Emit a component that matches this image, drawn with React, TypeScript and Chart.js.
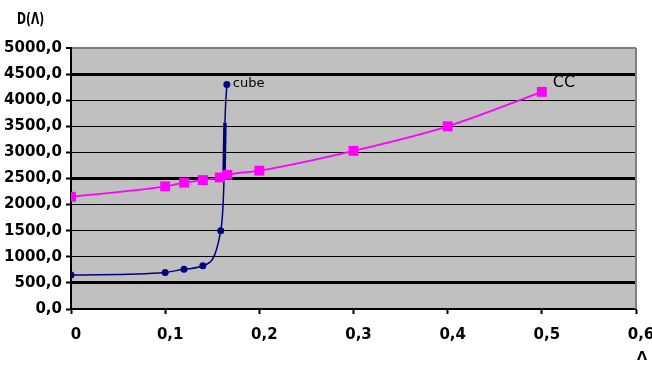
import React, { useEffect, useRef } from "react";
import { Chart, registerables } from "chart.js";

Chart.register(...registerables);

const cubeX = [0, 0.1, 0.12, 0.14, 0.159, 0.1625, 0.1635, 0.1655];
const cubeY = [650, 700, 760, 830, 1500, 2500, 3570, 4300];
const cubeMarkers = [3.5, 3.5, 3.5, 3.5, 3.5, 0, 0, 3.5];

const ccX = [0, 0.1, 0.12, 0.14, 0.158, 0.166, 0.2, 0.3, 0.4, 0.5];
const ccY = [2150, 2350, 2420, 2470, 2520, 2570, 2650, 3030, 3500, 4160];

const xTickLabels = ["0", "0,1", "0,2", "0,3", "0,4", "0,5", "0,6"];
const yTickLabels = ["0,0", "500,0", "1000,0", "1500,0", "2000,0", "2500,0", "3000,0", "3500,0", "4000,0", "4500,0", "5000,0"];
const thickGrid = [500, 2500, 4500];

const yTitle = "D(Λ)";
const xTitle = "Λ";
const cubeName = "cube";
const ccName = "CC";

export default function App() {
  const ref = useRef<HTMLCanvasElement>(null);

  useEffect(() => {
    if (!ref.current) return;
    const plugin = {
      id: "decor",
      beforeDraw(chart: any) {
        const { ctx, chartArea: a } = chart;
        ctx.save();
        ctx.fillStyle = "#C0C0C0";
        ctx.fillRect(a.left, a.top, a.right - a.left, a.bottom - a.top);
        ctx.restore();
      },
      afterDraw(chart: any) {
        const { ctx, chartArea: a } = chart;
        const xs = chart.scales.x;
        const ys = chart.scales.y;
        ctx.save();
        ctx.strokeStyle = "#808080";
        ctx.lineWidth = 2;
        ctx.beginPath();
        ctx.moveTo(a.right, a.top);
        ctx.lineTo(a.right, a.bottom);
        ctx.stroke();

        ctx.fillStyle = "#000";
        ctx.font = "bold 15px 'DejaVu Sans'";
        ctx.textBaseline = "middle";
        ctx.textAlign = "left";
        ctx.save();
        ctx.translate(17, 20);
        ctx.scale(0.72, 1.1);
        ctx.fillText(yTitle, 0, 0);
        ctx.restore();
        ctx.textAlign = "center";
        ctx.font = "bold 13px 'DejaVu Sans'";
        ctx.fillText(xTitle, 642, 357);

        const li = cubeX.length - 1;
        ctx.textAlign = "left";
        ctx.font = "13px 'DejaVu Sans'";
        ctx.fillText(cubeName, xs.getPixelForValue(cubeX[li]) + 6, ys.getPixelForValue(cubeY[li]) - 1);
        const lc = ccX.length - 1;
        ctx.font = "16px 'DejaVu Sans'";
        ctx.fillText(ccName, xs.getPixelForValue(ccX[lc]) + 11, ys.getPixelForValue(ccY[lc]) - 9);
        ctx.restore();
      },
    };

    const tickFont = { family: "'DejaVu Sans'", weight: "bold" as const, size: 15 };

    const chart = new Chart(ref.current, {
      type: "line",
      data: {
        datasets: [
          {
            label: ccName,
            data: ccX.map((x, i) => ({ x, y: ccY[i] })),
            borderColor: "#FF00FF",
            backgroundColor: "#FF00FF",
            borderWidth: 1.8,
            pointStyle: "rect",
            pointRadius: 7,
            pointBorderWidth: 0,
            cubicInterpolationMode: "monotone",
          },
          {
            label: cubeName,
            data: cubeX.map((x, i) => ({ x, y: cubeY[i] })),
            borderColor: "#000080",
            backgroundColor: "#000080",
            borderWidth: 1.5,
            pointStyle: "circle",
            pointRadius: cubeMarkers,
            pointBorderWidth: 0,
            cubicInterpolationMode: "monotone",
            segment: {
              borderWidth: (c: any) => (c.p0DataIndex === 5 ? 3.5 : 1.5),
            },
          },
        ],
      },
      options: {
        responsive: false,
        animation: false,
        devicePixelRatio: 1,
        layout: { padding: { top: 48, right: 16, left: 0, bottom: 0 } },
        plugins: { legend: { display: false }, tooltip: { enabled: false } },
        scales: {
          x: {
            type: "linear",
            min: 0,
            max: 0.6,
            afterFit: (s: any) => {
              s.height = 57;
              s.paddingLeft = 0;
              s.paddingRight = 0;
            },
            border: { display: true, color: "#000", width: 2 },
            grid: {
              drawOnChartArea: false,
              drawTicks: true,
              tickLength: 5,
              tickColor: "#000",
              tickWidth: 2,
            },
            ticks: {
              stepSize: 0.1,
              autoSkip: false,
              maxRotation: 0,
              color: "#000",
              font: tickFont,
              padding: 12,
              labelOffset: 5,
              callback: (_v: any, i: number) => xTickLabels[i],
            },
          },
          y: {
            type: "linear",
            min: 0,
            max: 5000,
            afterFit: (s: any) => {
              s.width = 71;
              s.paddingTop = 0;
              s.paddingBottom = 0;
            },
            border: { display: true, color: "#000", width: 2 },
            grid: {
              drawOnChartArea: true,
              drawTicks: true,
              tickLength: 5,
              tickColor: "#000",
              tickWidth: 2,
              color: (c: any) => (c.tick && c.tick.value === 5000 ? "#808080" : "#000"),
              lineWidth: (c: any) => {
                const v = c.tick ? c.tick.value : 0;
                if (v === 5000) return 2;
                return thickGrid.includes(v) ? 3 : 1;
              },
            },
            ticks: {
              stepSize: 500,
              autoSkip: false,
              color: "#000",
              font: tickFont,
              padding: 4,
              callback: (_v: any, i: number) => yTickLabels[i],
            },
          },
        },
      },
      plugins: [plugin],
    } as any);

    return () => chart.destroy();
  }, []);

  return (
    <div style={{ position: "absolute", left: 0, top: 0, width: 652, height: 366, background: "#fff" }}>
      <canvas ref={ref} width={652} height={366} />
    </div>
  );
}
